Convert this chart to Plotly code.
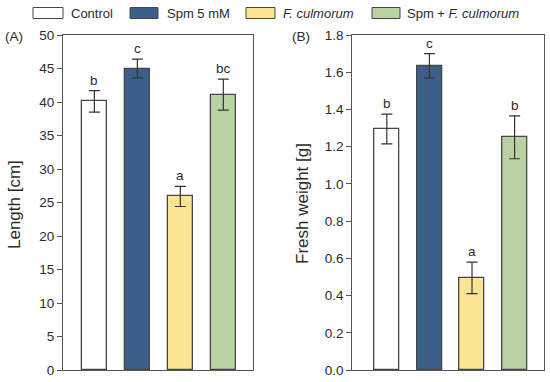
import plotly.graph_objects as go

groups = ["Control", "Spm 5 mM", "F. culmorum", "Spm + F. culmorum"]
legend_labels = ["Control", "Spm 5 mM", "<i>F. culmorum</i>", "Spm + <i>F. culmorum</i>"]
colors = ["#FFFFFF", "#3B5F89", "#FCE592", "#B9D1A3"]

length_mean = [40.1, 45.0, 25.9, 41.1]
length_err = [1.6, 1.4, 1.5, 2.3]
length_letters = ["b", "c", "a", "bc"]

weight_mean = [1.295, 1.635, 0.495, 1.25]
weight_err = [0.08, 0.065, 0.085, 0.115]
weight_letters = ["b", "c", "a", "b"]

W, H = 550, 382
FONT = "Liberation Sans, Arial, sans-serif"
TXT = "#2b2b2b"
LINE = "#555555"

fig = go.Figure()
xs = [0, 1, 2, 3]

for (vals, errs, xa, ya) in [(length_mean, length_err, "x", "y"),
                             (weight_mean, weight_err, "x2", "y2")]:
    fig.add_trace(go.Bar(
        x=xs, y=vals, width=0.59,
        marker=dict(color=colors, line=dict(color="#474747", width=1.3)),
        error_y=dict(type="data", array=errs, visible=True, color="#333333",
                     thickness=1.2, width=5.5),
        xaxis=xa, yaxis=ya, showlegend=False, hoverinfo="skip"))

def px_x(p):
    return p / W

def px_y(p):
    return 1 - p / H

ydom = [px_y(370), px_y(35)]
axis_common = dict(showline=True, linecolor=LINE, linewidth=1, mirror=True,
                   showgrid=False, zeroline=False, automargin=False)
fig.update_layout(
    template="none",
    width=W, height=H, margin=dict(l=0, r=0, t=0, b=0, pad=0),
    plot_bgcolor="white", paper_bgcolor="white",
    font=dict(family=FONT, size=13, color=TXT),
    bargap=0, showlegend=False,
    xaxis=dict(domain=[px_x(63), px_x(253)], range=[-0.73, 3.69],
               showticklabels=False, ticks="", **axis_common),
    yaxis=dict(domain=ydom, range=[0, 50], dtick=5, ticks="outside",
               ticklen=5, tickcolor=LINE, tickfont=dict(size=13.5, color=TXT),
               **axis_common),
    xaxis2=dict(domain=[px_x(352.3), px_x(544)], range=[-0.81, 3.69],
                showticklabels=False, ticks="", anchor="y2", **axis_common),
    yaxis2=dict(domain=ydom, range=[0, 1.8], dtick=0.2, tickformat=".1f",
                ticks="outside", ticklen=5, tickcolor=LINE, anchor="x2",
                tickfont=dict(size=13.5, color=TXT), **axis_common),
)

ann = []
for vals, errs, letters, xr, yr in [(length_mean, length_err, length_letters, "x", "y"),
                                    (weight_mean, weight_err, weight_letters, "x2", "y2")]:
    for i in range(4):
        ann.append(dict(x=xs[i], y=vals[i] + errs[i], xref=xr, yref=yr,
                        text=letters[i], showarrow=False, yanchor="bottom",
                        xanchor="center", yshift=1, font=dict(size=13.5, color=TXT)))

# axis titles
ann.append(dict(x=px_x(14), y=px_y(205), xref="paper", yref="paper",
                text="Length [cm]", textangle=-90, showarrow=False,
                xanchor="center", yanchor="middle",
                font=dict(size=17, color=TXT)))
ann.append(dict(x=px_x(302), y=px_y(204), xref="paper", yref="paper",
                text="Fresh weight [g]", textangle=-90, showarrow=False,
                xanchor="center", yanchor="middle",
                font=dict(size=17, color=TXT)))
# panel labels
ann.append(dict(x=px_x(3), y=px_y(37), xref="paper", yref="paper", text="(A)",
                showarrow=False, xanchor="left", yanchor="middle",
                font=dict(size=13.5, color=TXT)))
ann.append(dict(x=px_x(290), y=px_y(37), xref="paper", yref="paper", text="(B)",
                showarrow=False, xanchor="left", yanchor="middle",
                font=dict(size=13.5, color=TXT)))

# legend
box_x = [(33, 63), (130, 158), (246, 275), (372, 400)]
text_x = [69, 165, 281, 405]
shapes = []
for i in range(4):
    x0, x1 = box_x[i]
    shapes.append(dict(type="rect", xref="paper", yref="paper",
                       x0=px_x(x0), x1=px_x(x1), y0=px_y(18.5), y1=px_y(7.5),
                       fillcolor=colors[i], line=dict(color="#474747", width=1)))
    ann.append(dict(x=px_x(text_x[i]), y=px_y(13), xref="paper", yref="paper",
                    text=legend_labels[i], showarrow=False, xanchor="left",
                    yanchor="middle", font=dict(size=13, color=TXT)))

fig.update_layout(annotations=ann, shapes=shapes)
fig.write_html("out.html", config={"displayModeBar": False},
               post_script="document.body.style.margin='0';document.body.style.padding='0';")
